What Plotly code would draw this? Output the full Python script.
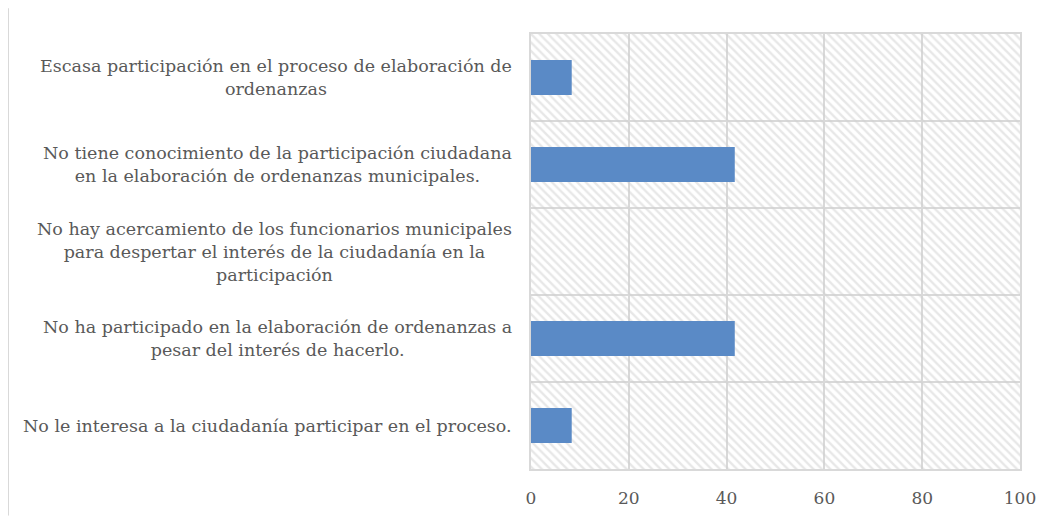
import plotly.graph_objects as go

categories = [
    "Escasa participación en el proceso de elaboración de<br>ordenanzas",
    "No tiene conocimiento de la participación ciudadana<br>en la elaboración de ordenanzas municipales.",
    "No hay acercamiento de los funcionarios municipales<br>para despertar el interés de la ciudadanía en la<br>participación",
    "No ha participado en la elaboración de ordenanzas a<br>pesar del interés de hacerlo.",
    "No le interesa a la ciudadanía participar en el proceso.",
]
values = [8.33, 41.67, 0, 41.67, 8.33]
x_ticks = [0, 20, 40, 60, 80, 100]
X_MAX = 100

FONT = "DejaVu Serif"
TXT = "#595959"
GRID = "#d9d9d9"

# page body has an 8px margin, so the figure is drawn 8px in from the top-left
W, H = 1046, 512
L, R, T, B = 523, 34, 26, 47

fig = go.Figure()
# hatched plot background
fig.add_trace(go.Bar(
    y=categories, x=[X_MAX] * len(categories), orientation="h", width=1,
    marker=dict(color="rgba(0,0,0,0)", line=dict(width=0),
                pattern=dict(shape="\\", fgcolor="#d0d0d0", bgcolor="rgba(0,0,0,0)",
                             size=6, solidity=0.4)),
    hoverinfo="skip", showlegend=False,
))
fig.add_trace(go.Bar(
    y=categories, x=values, orientation="h", width=0.4,
    marker=dict(color="#5A8AC6", line=dict(width=0)),
    showlegend=False,
))

for c in categories:
    fig.add_annotation(
        x=0, xref="paper", y=c, yref="y", text=c, showarrow=False,
        xanchor="right", align="center", xshift=-17,
        font=dict(family=FONT, size=17.5, color=TXT),
    )

fig.add_shape(type="line", xref="paper", yref="paper",
              x0=(0.5 - L) / (W - L - R), x1=(0.5 - L) / (W - L - R),
              y0=-B / (H - T - B), y1=1 + T / (H - T - B),
              line=dict(color=GRID, width=1))

fig.update_layout(
    width=W, height=H, barmode="overlay",
    margin=dict(l=L, r=R, t=T, b=B),
    plot_bgcolor="white", paper_bgcolor="white",
    font=dict(family=FONT, color=TXT),
    xaxis=dict(range=[0, X_MAX], tickvals=x_ticks, showgrid=True, gridcolor=GRID,
               gridwidth=1.5, zeroline=False, showline=True, linecolor=GRID,
               linewidth=1.5, mirror=True, tickfont=dict(family=FONT, size=17, color=TXT),
               ticks="", ticklabelstandoff=13),
    yaxis=dict(type="category", autorange="reversed", tickson="boundaries",
               showgrid=True, gridcolor=GRID, gridwidth=1.5, showticklabels=False,
               ticks="", showline=True, linecolor=GRID, linewidth=1.5, mirror=True,
               zeroline=False),
)

fig.write_html("out.html")
